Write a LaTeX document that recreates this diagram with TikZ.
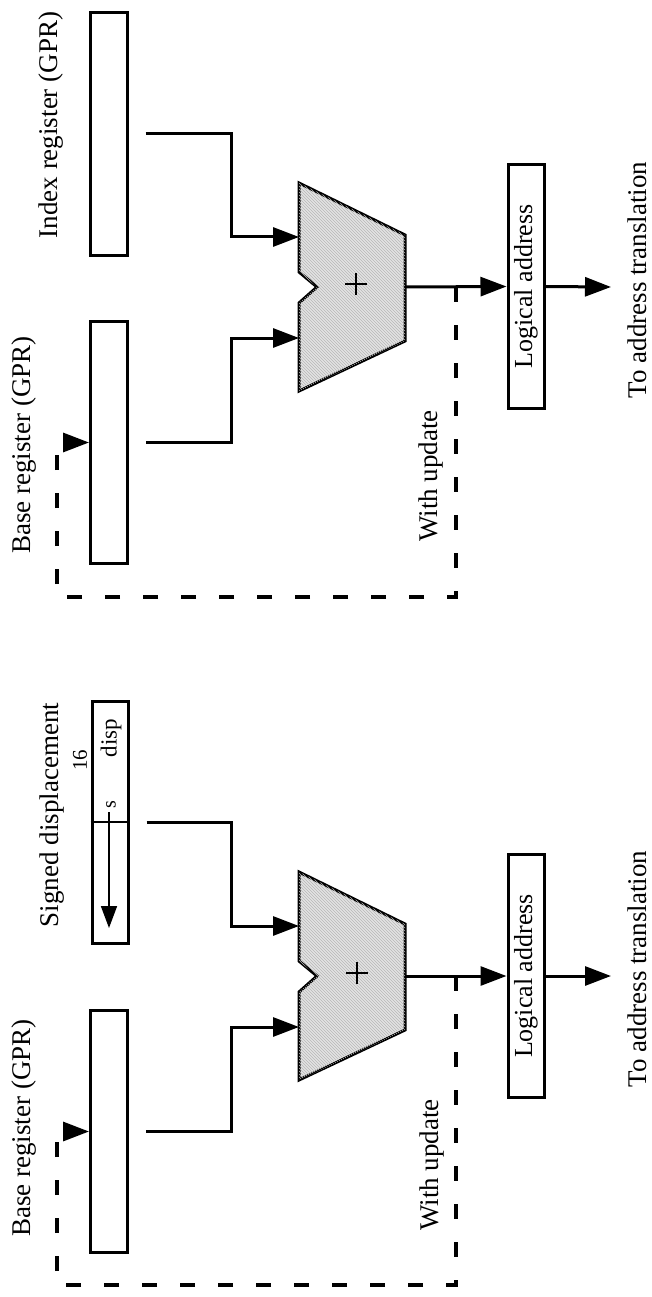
\documentclass[tikz,border=0pt]{standalone}
\usepackage{fontspec}
\setmainfont{Liberation Serif}
\usetikzlibrary{arrows.meta,patterns,calc}
\begin{document}
\begin{tikzpicture}[x=1pt,y=-1pt,
  every path/.style={line width=3pt},
  reg/.style={draw,line width=3pt,rectangle,inner sep=0pt,minimum width=37pt,minimum height=242pt},
  lbl/.style={rotate=90,inner sep=0pt,font=\fontsize{27}{32}\selectfont},
  arr/.style={line width=3pt,-{Triangle[length=26pt,width=19pt]}},
  fb/.style={line width=3.2pt,dash pattern=on 15pt off 23pt,-{Triangle[length=26pt,width=19pt]}},
  adder/.style={draw,line width=3pt,line join=miter,fill=black!11,postaction={pattern=north west lines,pattern color=black!28}},
  thinarr/.style={line width=1.6pt,-{Triangle[length=22pt,width=16pt]}},
  plus/.style={line width=2.6pt}
]
\useasboundingbox (0,0) rectangle (652,1297);

% ================= top diagram =================
\node[lbl] (tIdxL) at (51,125) {Index register (GPR)};
\node[lbl] (tBaseL) at (24,445) {Base register (GPR)};
\node[reg] (tIdx) at (108.5,134) {};
\node[reg] (tBase) at (109,442.5) {};
\draw[adder] (299,183) -- (405,235) -- (405,341) -- (299,391) -- (299,303) -- (317,287) -- (299,272) -- cycle;
\coordinate (tPlus) at (356,284);
\draw[plus] ($(tPlus)+(-11,0)$) -- ($(tPlus)+(11,0)$);
\draw[plus] ($(tPlus)+(0,-11)$) -- ($(tPlus)+(0,11)$);
\coordinate (tIn1) at (299,237);
\coordinate (tIn2) at (299,338);
\coordinate (tOut) at (405,287);
\node[reg,minimum width=36pt,minimum height=243pt] (tLog) at (526,286.5) {};
\node[lbl,font=\fontsize{26}{30}\selectfont] (tLogL) at (tLog) {Logical address};
\coordinate (tEnd) at (611,287);
\node[lbl] (tTo) at (637,280) {To address translation};
\node[lbl] (tUpd) at (431,476) {With update};
\coordinate (tTap) at (456,287);
\coordinate (tC1) at (456,597);
\coordinate (tC2) at (57,597);

\draw[arr] ([xshift=17pt]tIdx.east) -- ++(86,0) |- (tIn1);
\draw[arr] ([xshift=17pt]tBase.east) -- ++(85,0) |- (tIn2);
\draw[arr] (tOut) -- (tLog.west);
\draw[arr] (tLog.east) -- (tEnd);
\draw[fb] (tTap) -- (tC1) -- (tC2) |- (tBase.west);

% ================= bottom diagram =================
\node[lbl] (bDispL) at (52,815) {Signed displacement};
\node[lbl,font=\fontsize{21}{24}\selectfont] (b16) at (80,760) {16};
\node[lbl] (bBaseL) at (24,1128) {Base register (GPR)};
\node[reg,minimum width=36pt] (bDisp) at (110,822) {};
\draw[line width=1.6pt] (bDisp.west) -- (bDisp.east);
\node[lbl,font=\fontsize{23}{26}\selectfont] (bDispT) at (111,738) {disp};
\node[lbl,font=\fontsize{20}{24}\selectfont] (bS) at (111,805) {s};
\coordinate (bSa) at (109,812);
\coordinate (bSb) at (109,928);
\draw[thinarr] (bSa) -- (bSb);
\node[reg] (bBase) at (109,1131.5) {};
\draw[adder] (299,872) -- (405,924) -- (405,1030) -- (299,1080) -- (299,992) -- (317,976) -- (299,961) -- cycle;
\coordinate (bPlus) at (357,973);
\draw[plus] ($(bPlus)+(-11,0)$) -- ($(bPlus)+(11,0)$);
\draw[plus] ($(bPlus)+(0,-11)$) -- ($(bPlus)+(0,11)$);
\coordinate (bIn1) at (299,926);
\coordinate (bIn2) at (299,1027);
\coordinate (bOut) at (405,976);
\node[reg,minimum width=36pt,minimum height=243pt] (bLog) at (526,976) {};
\node[lbl,font=\fontsize{26}{30}\selectfont] (bLogL) at (bLog) {Logical address};
\coordinate (bEnd) at (611,976);
\node[lbl] (bTo) at (637,969) {To address translation};
\node[lbl] (bUpd) at (432,1165) {With update};
\coordinate (bTap) at (456,976);
\coordinate (bC1) at (456,1285);
\coordinate (bC2) at (57,1285);

\draw[arr] ([xshift=17pt]bDisp.east) -- ++(85,0) |- (bIn1);
\draw[arr] ([xshift=17pt]bBase.east) -- ++(85,0) |- (bIn2);
\draw[arr] (bOut) -- (bLog.west);
\draw[arr] (bLog.east) -- (bEnd);
\draw[fb] (bTap) -- (bC1) -- (bC2) |- (bBase.west);
\end{tikzpicture}
\end{document}
